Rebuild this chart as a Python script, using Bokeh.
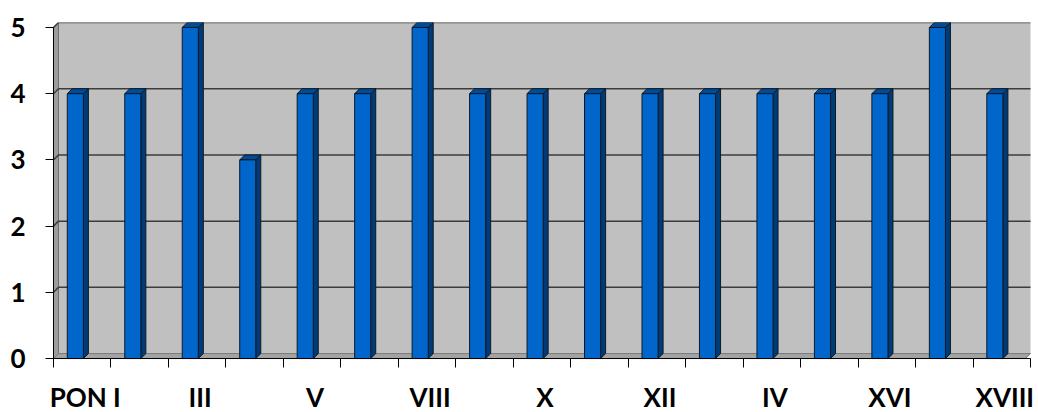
from bokeh.plotting import figure
from bokeh.models import Range1d, FixedTicker, ColumnDataSource, LabelSet, LinearAxis
from bokeh.core.properties import value
from bokeh.embed import file_html
from bokeh.resources import INLINE

# ---- data ----
categories = ["PON I", "II", "III", "IV ", "V", "VI", "VIII", "IX", "X",
              "XI", "XII", "XIII", "IV", "XV", "XVI", "XVII", "XVIII"]
shown = [True, False] * 8 + [True]
values = [4, 4, 5, 3, 4, 4, 5, 4, 4, 4, 4, 4, 4, 4, 4, 5, 4]
y_ticks = [0, 1, 2, 3, 4, 5]

# ---- style ----
DX = 0.087    # 3D depth (x, data units)
DY = 0.075    # 3D depth (y, data units)
PAD_L = 0.1566      # room left of the wall for y tick marks
PAD_R = 0.1044      # room right of the wall for the last label
Y_BOTTOM = -0.815   # room below the floor for the category labels
LABEL_Y = -0.728    # baseline of category labels (data units, below the floor)
FONT = "Lato"
FRONT = "#0066CC"
SIDE = "#003B78"
TOP = "#004C99"
EDGE = "#0d1a26"

n = len(categories)
x0, x1 = -0.5, n - 0.5
ymax = max(y_ticks)

p = figure(width=1036, height=412, output_backend="svg", toolbar_location=None,
           x_range=Range1d(x0 - PAD_L, x1 + PAD_R),
           y_range=Range1d(Y_BOTTOM, ymax + DY),
           min_border_left=44, min_border_right=0, min_border_top=22,
           min_border_bottom=0)
p.background_fill_color = "white"
p.border_fill_color = "white"
p.outline_line_color = None
p.xgrid.visible = False
p.ygrid.visible = False

# back wall
p.quad(left=[x0 + DX], right=[x1], bottom=[DY], top=[ymax + DY],
       fill_color="#C0C0C0", line_color=None)
# left wall
p.patch([x0, x0 + DX, x0 + DX, x0], [0, DY, ymax + DY, ymax],
        fill_color="#9C9C9C", line_color="#6E6E6E", line_width=1)
# floor
p.patch([x0, x1 - DX, x1, x0 + DX], [0, 0, DY, DY],
        fill_color="#A3A3A3", line_color="#7A7A7A", line_width=1)

# gridlines on back wall and left wall
gx = [[x0, x0 + DX, x1] for t in y_ticks[1:]]
gy = [[t, t + DY, t + DY] for t in y_ticks[1:]]
p.multi_line(gx, gy, line_color="#3C3C3C", line_width=1.5)

# bars
L = [i - 0.26 for i in range(n)]
R = [i + 0.02 for i in range(n)]
src = ColumnDataSource(dict(left=L, right=R, top=values, bottom=[0] * n))
side_xs = [[r, r + DX, r + DX, r] for r in R]
side_ys = [[0, DY, v + DY, v] for v in values]
top_xs = [[l, r, r + DX, l + DX] for l, r in zip(L, R)]
top_ys = [[v, v, v + DY, v + DY] for v in values]
p.patches(side_xs, side_ys, fill_color=SIDE, line_color=EDGE, line_width=1)
p.patches(top_xs, top_ys, fill_color=TOP, line_color=EDGE, line_width=1)
p.quad(left="left", right="right", top="top", bottom="bottom", source=src,
       fill_color=FRONT, line_color=EDGE, line_width=1)

# x axis at y = 0: tick marks between categories
xa = p.xaxis[0]
xa.fixed_location = 0
xa.bounds = (x0, x1)
xa.ticker = FixedTicker(ticks=[], minor_ticks=[i - 0.5 for i in range(n + 1)])
xa.major_tick_out = 0
xa.major_tick_in = 0
xa.minor_tick_out = 9
xa.minor_tick_in = 0
xa.minor_tick_line_color = "black"
xa.axis_line_color = "black"

# category labels
lab_src = ColumnDataSource(dict(
    x=[i for i in range(n) if shown[i]],
    y=[LABEL_Y] * sum(shown),
    text=[c for c, s in zip(categories, shown) if s]))
p.add_layout(LabelSet(x="x", y="y", text="text", source=lab_src, x_offset=3,
                      text_align="center", text_baseline="alphabetic",
                      text_font=value(FONT), text_font_style="bold",
                      text_font_size="26px", text_color="black"))

# y axis tick labels (in the left panel)
ya = p.yaxis[0]
ya.ticker = FixedTicker(ticks=y_ticks, minor_ticks=[])
ya.major_tick_out = 0
ya.major_tick_in = 0
ya.axis_line_color = None
ya.major_label_standoff = 19
ya.major_label_text_font = FONT
ya.major_label_text_font_style = "bold"
ya.major_label_text_font_size = "26px"
ya.major_label_text_color = "black"

# y axis line and tick marks at the left wall
yline = LinearAxis(fixed_location=x0, bounds=(0, ymax),
                   ticker=FixedTicker(ticks=[], minor_ticks=y_ticks),
                   major_tick_out=0, major_tick_in=0,
                   minor_tick_out=8, minor_tick_in=0,
                   minor_tick_line_color="black", axis_line_color="black")
p.add_layout(yline, "left")

open("out.html", "w").write(file_html(p, INLINE))
